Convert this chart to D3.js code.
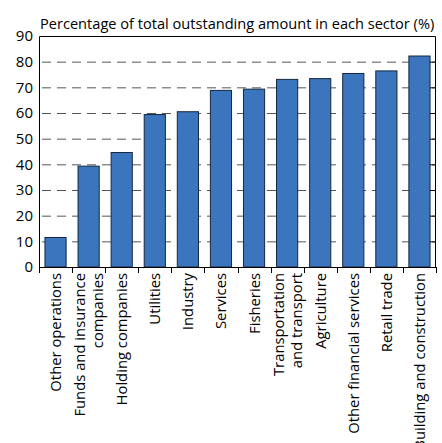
<!DOCTYPE html>
<html>
<head>
<meta charset="utf-8">
<script src="https://cdn.jsdelivr.net/npm/d3@7"></script>
<style>
  body { margin: 0; background: #fff; }
  text { font-family: "Open Sans", sans-serif; fill: #000; }
</style>
</head>
<body>
<div id="container"></div>
<script>
/* DATA */
const sectors = [
  ["Other operations"],
  ["Funds and insurance", "companies"],
  ["Holding companies"],
  ["Utilities"],
  ["Industry"],
  ["Services"],
  ["Fisheries"],
  ["Transportation", "and transport"],
  ["Agriculture"],
  ["Other financial services"],
  ["Retail trade"],
  ["Building and construction"]
];
const shares = [11.5, 39.3, 44.6, 59.4, 60.5, 68.8, 69.3, 73.1, 73.4, 75.4, 76.4, 82.2];
const yTicks = [0, 10, 20, 30, 40, 50, 60, 70, 80, 90];
const title = "Percentage of total outstanding amount in each sector (%)";

/* CONSTANTS */
const width = 442, height = 443;
const margin = { top: 36, bottom: 176, left: 39, right: 6 };

const data = sectors.map((s, i) => ({ key: s.join(" "), lines: s, value: shares[i] }));

const svg = d3.select("#container").append("svg")
  .attr("width", width).attr("height", height);

/* SCALES */
const xScale = d3.scaleBand()
  .domain(data.map(d => d.key))
  .range([margin.left, width - margin.right])
  .paddingInner(0.36).paddingOuter(0.18);

const yScale = d3.scaleLinear()
  .domain([0, 90])
  .range([height - margin.bottom, margin.top]);

const x0 = margin.left, x1 = width - margin.right;
const y0 = yScale(0);

// title
svg.append("text")
  .attr("x", 40).attr("y", 29)
  .style("font-size", "14.6px")
  .text(title);

// dashed gridlines
svg.append("g").selectAll("line")
  .data(yTicks.filter(t => t > 0 && t < 90))
  .join("line")
  .attr("x1", x0).attr("x2", x1)
  .attr("y1", d => yScale(d) + 0.5).attr("y2", d => yScale(d) + 0.5)
  .attr("stroke", "#555").attr("stroke-width", 1)
  .attr("stroke-dasharray", "9,6")
  .attr("stroke-dashoffset", -3);

// bars
svg.append("g").selectAll("rect")
  .data(data)
  .join("rect")
  .attr("x", d => xScale(d.key))
  .attr("y", d => yScale(d.value))
  .attr("width", xScale.bandwidth())
  .attr("height", d => y0 - yScale(d.value))
  .attr("fill", "#3a75bd")
  .attr("stroke", "#14283f")
  .attr("stroke-width", 1);

// frame
svg.append("path")
  .attr("d", `M${x0 + 0.5},${y0} V${margin.top + 0.5} H${x1 - 0.5} V${y0}`)
  .attr("fill", "none").attr("stroke", "#000").attr("stroke-width", 1);

// left axis
const yAxis = d3.axisLeft(yScale).tickValues(yTicks).tickSize(0).tickPadding(6);
svg.append("g")
  .attr("transform", `translate(${x0},0)`)
  .call(yAxis)
  .call(g => g.select(".domain").remove())
  .call(g => g.selectAll("text").style("font-size", "15px").style("font-family", "'Open Sans', sans-serif"));

// right inward ticks
svg.append("g").selectAll("line")
  .data(yTicks.filter(t => t > 0 && t < 90))
  .join("line")
  .attr("x1", x1 - 6).attr("x2", x1)
  .attr("y1", d => yScale(d) + 0.5).attr("y2", d => yScale(d) + 0.5)
  .attr("stroke", "#000");

// bottom axis line and separators
svg.append("line")
  .attr("x1", x0).attr("x2", x1)
  .attr("y1", y0 + 0.5).attr("y2", y0 + 0.5)
  .attr("stroke", "#000");

const seps = d3.range(data.length + 1).map(i => x0 + i * (x1 - x0) / data.length);
svg.append("g").selectAll("line")
  .data(seps)
  .join("line")
  .attr("x1", d => Math.round(d) + 0.5).attr("x2", d => Math.round(d) + 0.5)
  .attr("y1", y0).attr("y2", y0 + 6)
  .attr("stroke", "#000");

// category labels
const labels = svg.append("g").selectAll("text")
  .data(data)
  .join("text")
  .attr("transform", d => `translate(${xScale(d.key) + xScale.bandwidth() / 2},${y0 + 6}) rotate(-90)`)
  .attr("text-anchor", "end")
  .style("font-size", "14.8px");

labels.selectAll("tspan")
  .data(d => d.lines.map((l, i) => ({ l, i, n: d.lines.length })))
  .join("tspan")
  .attr("x", 0)
  .attr("y", d => (d.i - (d.n - 1) / 2) * 18 + 5.5)
  .text(d => d.l);
</script>
</body>
</html>
